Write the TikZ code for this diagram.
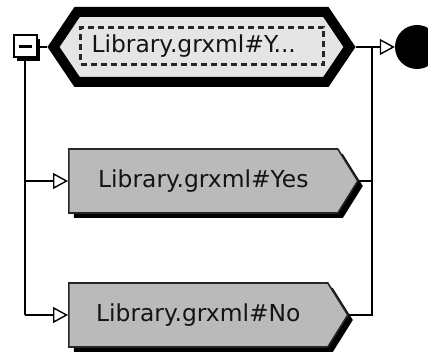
\documentclass[tikz,border=0pt]{standalone}
\usepackage{fontspec}
\newfontfamily\uifont{DejaVu Sans}
\usetikzlibrary{shapes.symbols,shadows,arrows.meta}

\tikzset{
  rulelabel/.style={font=\uifont\fontsize{23.4}{27}\selectfont, text=black!92},
  ruleref/.style={signal, signal to=east, draw=black!85, line width=1.6pt,
    fill=black!27, inner sep=0pt, rulelabel, anchor=west,
    drop shadow={shadow xshift=5pt, shadow yshift=-5pt, fill=black, opacity=1}},
  choicebox/.style={signal, signal to=west and east, draw=black, line width=10pt,
    line join=miter, fill=black!10, inner sep=0pt},
  dashbox/.style={draw=black!85, line width=2.3pt, dash pattern=on 6pt off 4pt,
    inner xsep=11pt, inner ysep=0pt, text width=221pt, align=left, rulelabel},
  togglebox/.style={draw=black, line width=2pt, fill=white, minimum width=23pt,
    minimum height=22pt, inner sep=0pt,
    drop shadow={shadow xshift=3.5pt, shadow yshift=-3.5pt, fill=black, opacity=1}},
  endmark/.style={circle, fill=black, minimum size=44pt, inner sep=0pt},
  wire/.style={line width=1.4pt, draw=black},
  flowarrow/.style={wire, -{Triangle[open, length=15pt, width=16pt, line width=1.4pt]}},
}

\begin{document}
\begin{tikzpicture}[x=1pt, y=-1pt]
  \useasboundingbox (0,0) rectangle (428,352);

  % alternatives container with its collapse toggle
  \node[choicebox, minimum width=296pt, minimum height=70pt,
        signal pointer angle=112] (choice) at (201.5,47) {};
  \node[dashbox, minimum height=37pt] (sel) at (202,46)
        {Library.grxml\#Y...};
  \node[togglebox] (toggle) at (25,46.5) {};
  \draw[line width=2.6pt] ([xshift=-6.5pt]toggle.center) -- ([xshift=6.5pt]toggle.center);

  % rule references
  \node[ruleref, minimum width=289pt, minimum height=64pt,
        signal pointer angle=116] (yes) at (68,181) {Library.grxml\#Yes};
  \node[ruleref, minimum width=279pt, minimum height=64pt,
        signal pointer angle=116] (no) at (68,315) {Library.grxml\#No};

  % end of the rule
  \node[endmark] (stop) at (417,47) {};

  % wiring
  \coordinate (bus) at (372,47);
  \draw[wire] (toggle.east |- choice.west) -- (choice.west);
  \draw[wire] (toggle.south) -- (toggle.south |- no.west);
  \draw[flowarrow] (toggle.south |- yes.west) -- (yes.west);
  \draw[flowarrow] (toggle.south |- no.west) -- (no.west);
  \draw[flowarrow] (choice.east) -- (stop.west);
  \draw[wire] (yes.east) -- (yes.east -| bus);
  \draw[wire] (bus) -- (bus |- no.east) -- (no.east);
\end{tikzpicture}
\end{document}
